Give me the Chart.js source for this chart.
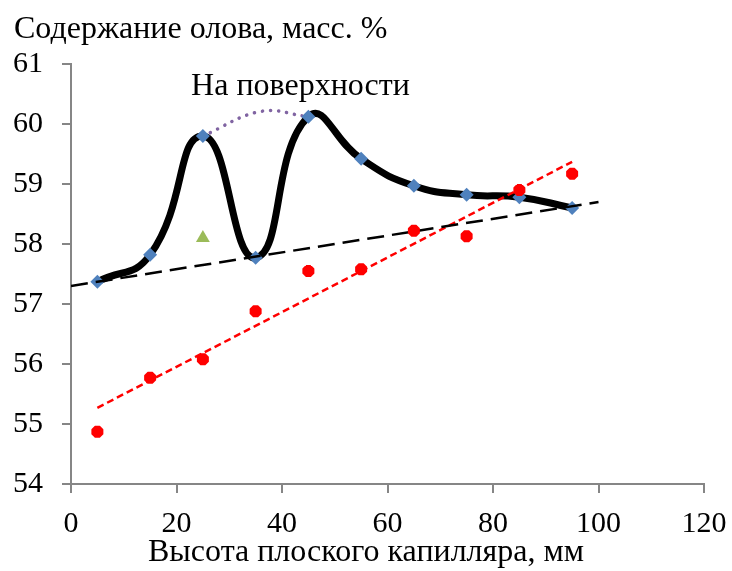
<!DOCTYPE html>
<html>
<head>
<meta charset="utf-8">
<script src="https://cdn.jsdelivr.net/npm/chart.js@4.4.0/dist/chart.umd.min.js"></script>
<style>
  html, body { margin: 0; padding: 0; background: #fff; }
  #wrap { width: 732px; height: 571px; position: relative; }
</style>
</head>
<body>
<div id="wrap"><canvas id="chart"></canvas></div>
<script>
// === Data ===
const heights = [5, 15, 25, 35, 45, 55, 65, 75, 85, 95];
const tinVolume = [57.37, 57.82, 59.8, 57.77, 60.12, 59.42, 58.97, 58.82, 58.78, 58.6];
const tinRed = [54.87, 55.77, 56.08, 56.88, 57.55, 57.58, 58.22, 58.13, 58.9, 59.17];
const surfaceX = [25, 36, 45];
const surfaceY = [59.8, 60.21, 60.12];
const greenPoint = { x: 25, y: 58.1 };
const blackTrendX = [0, 100];
const blackTrendY = [57.3, 58.7];
const redTrendX = [5, 95];
const redTrendY = [55.27, 59.37];
const xTicks = [0, 20, 40, 60, 80, 100, 120];
const yTicks = [54, 55, 56, 57, 58, 59, 60, 61];

const yTitle = "Содержание олова, масс. %";
const xTitle = "Высота плоского капилляра, мм";
const note = "На поверхности";

const FONT = "'Liberation Serif', 'Times New Roman', serif";
const AXIS = "#868686";

const toPts = (xs, ys) => xs.map((x, i) => ({ x, y: ys[i] }));

// === Text plugin (titles + annotation) ===
const textPlugin = {
  id: "texts",
  afterDraw(chart) {
    const ctx = chart.ctx;
    const sx = chart.scales.x, sy = chart.scales.y;
    ctx.save();
    ctx.fillStyle = "#000";
    ctx.font = "32px " + FONT;
    ctx.textBaseline = "middle";
    ctx.textAlign = "left";
    ctx.fillText(yTitle, 14, 30);
    ctx.textAlign = "center";
    ctx.fillText(xTitle, chart.width / 2, 553);
    ctx.fillText(note, sx.getPixelForValue(43.5), sy.getPixelForValue(60.62));
    ctx.restore();
  }
};

// === Chart ===
new Chart(document.getElementById("chart"), {
  type: "scatter",
  data: {
    datasets: [
      {
        label: "blue",
        data: toPts(heights, tinVolume),
        showLine: true,
        borderColor: "#000",
        borderWidth: 7,
        tension: 0.5,
        pointStyle: "rectRot",
        pointRadius: 7,
        pointBackgroundColor: "#4F81BD",
        pointBorderWidth: 0,
        order: 2
      },
      {
        label: "surface",
        data: toPts(surfaceX, surfaceY),
        showLine: true,
        borderColor: "#8064A2",
        borderWidth: 3.5,
        borderDash: [0.1, 8],
        borderCapStyle: "round",
        tension: 0.4,
        pointRadius: 0,
        order: 3
      },
      {
        label: "green",
        data: [greenPoint],
        pointStyle: "triangle",
        pointRadius: 8,
        pointBackgroundColor: "#9BBB59",
        pointBorderWidth: 0,
        order: 1
      },
      {
        label: "red",
        data: toPts(heights, tinRed),
        pointStyle: "star",
        pointRadius: 6,
        pointBackgroundColor: "#FF0000",
        pointBorderColor: "#FF0000",
        pointBorderWidth: 5,
        order: 0
      },
      {
        label: "blackTrend",
        data: toPts(blackTrendX, blackTrendY),
        showLine: true,
        borderColor: "#000",
        borderWidth: 2.5,
        borderDash: [17, 8],
        pointRadius: 0,
        order: 1
      },
      {
        label: "redTrend",
        data: toPts(redTrendX, redTrendY),
        showLine: true,
        borderColor: "#FF0000",
        borderWidth: 2.5,
        borderDash: [7, 4],
        pointRadius: 0,
        order: 1
      }
    ]
  },
  options: {
    responsive: true,
    maintainAspectRatio: false,
    animation: false,
    layout: { padding: { left: 0, right: 28, top: 64, bottom: 0 } },
    plugins: {
      legend: { display: false },
      tooltip: { enabled: false }
    },
    scales: {
      x: {
        type: "linear",
        min: 0,
        max: 120,
        afterBuildTicks: s => { s.ticks = xTicks.map(v => ({ value: v })); },
        afterFit: s => { s.height = 87; s.paddingLeft = 0; s.paddingRight = 0; },
        ticks: { color: "#000", font: { family: FONT, size: 30 }, padding: 13, maxRotation: 0 },
        grid: { display: true, drawOnChartArea: false, drawTicks: true, tickLength: 9, color: AXIS, lineWidth: 2 },
        border: { color: AXIS, width: 2 }
      },
      y: {
        type: "linear",
        min: 54,
        max: 61,
        afterBuildTicks: s => { s.ticks = yTicks.map(v => ({ value: v })); },
        afterFit: s => { s.width = 71; s.paddingTop = 0; s.paddingBottom = 0; },
        ticks: { color: "#000", font: { family: FONT, size: 30 }, padding: 19 },
        grid: { display: true, drawOnChartArea: false, drawTicks: true, tickLength: 9, color: AXIS, lineWidth: 2 },
        border: { color: AXIS, width: 2 }
      }
    }
  },
  plugins: [textPlugin]
});
</script>
</body>
</html>
